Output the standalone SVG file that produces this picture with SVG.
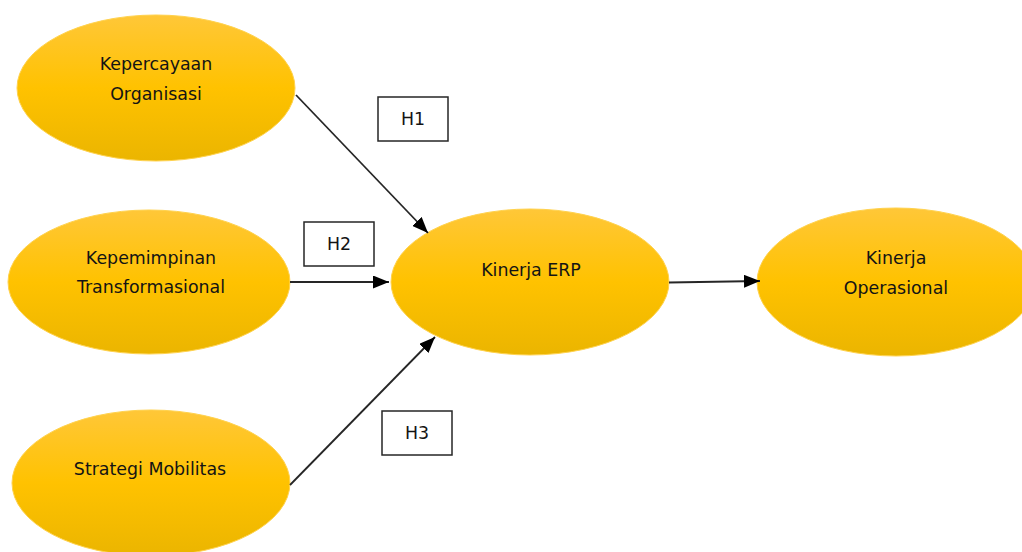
<svg xmlns="http://www.w3.org/2000/svg" width="1022" height="552" viewBox="0 0 1022 552">
<style>
.node ellipse{fill:url(#gold);stroke:#FFD24D;stroke-width:1}
.lbl{font-family:"DejaVu Sans",sans-serif;font-size:17.4px;fill:#141414;text-anchor:middle}
.box{fill:#fff;stroke:#262626;stroke-width:1.5}
.conn{stroke:#262626;stroke-width:1.8;fill:none;marker-end:url(#arr)}
</style>
<defs>
<linearGradient id="gold" x1="0" y1="0" x2="0" y2="1">
<stop offset="0" stop-color="#FFC738"/>
<stop offset="0.5" stop-color="#FFC200"/>
<stop offset="1" stop-color="#EBB500"/>
</linearGradient>
<marker id="arr" viewBox="0 0 16 13" refX="16" refY="6.5" markerWidth="16" markerHeight="13" markerUnits="userSpaceOnUse" orient="auto">
<path d="M0,0 L16,6.5 L0,13 z" fill="#000"/>
</marker>
</defs>
<rect width="1022" height="552" fill="#fff"/>
<g id="n-kepercayaan" class="node">
<ellipse cx="156" cy="88" rx="139" ry="73"/>
<text class="lbl" x="156" y="70">Kepercayaan</text>
<text class="lbl" x="156" y="100">Organisasi</text>
</g>
<g id="n-kepemimpinan" class="node">
<ellipse cx="149" cy="282" rx="141" ry="72"/>
<text class="lbl" x="151" y="264">Kepemimpinan</text>
<text class="lbl" x="151" y="293">Transformasional</text>
</g>
<g id="n-strategi" class="node">
<ellipse cx="151" cy="483" rx="139" ry="73"/>
<text class="lbl" x="150" y="475">Strategi Mobilitas</text>
</g>
<g id="n-erp" class="node">
<ellipse cx="530" cy="282" rx="139" ry="73"/>
<text class="lbl" x="531" y="276">Kinerja ERP</text>
</g>
<g id="n-operasional" class="node">
<ellipse cx="896" cy="282" rx="139" ry="74"/>
<text class="lbl" x="896" y="264">Kinerja</text>
<text class="lbl" x="896" y="294">Operasional</text>
</g>
<g id="labels">
<g id="h1"><rect class="box" x="378" y="97" width="70" height="44"/><text class="lbl" x="413" y="125">H1</text></g>
<g id="h2"><rect class="box" x="304" y="222" width="70" height="44"/><text class="lbl" x="339" y="250">H2</text></g>
<g id="h3"><rect class="box" x="382" y="411" width="70" height="44"/><text class="lbl" x="417" y="439">H3</text></g>
</g>
<g id="connectors">
<line class="conn" x1="296" y1="95" x2="428" y2="233"/>
<line class="conn" x1="290" y1="282" x2="389" y2="282"/>
<line class="conn" x1="290" y1="485" x2="435" y2="337"/>
<line class="conn" x1="669" y1="282.5" x2="760" y2="281"/>
</g>
</svg>
